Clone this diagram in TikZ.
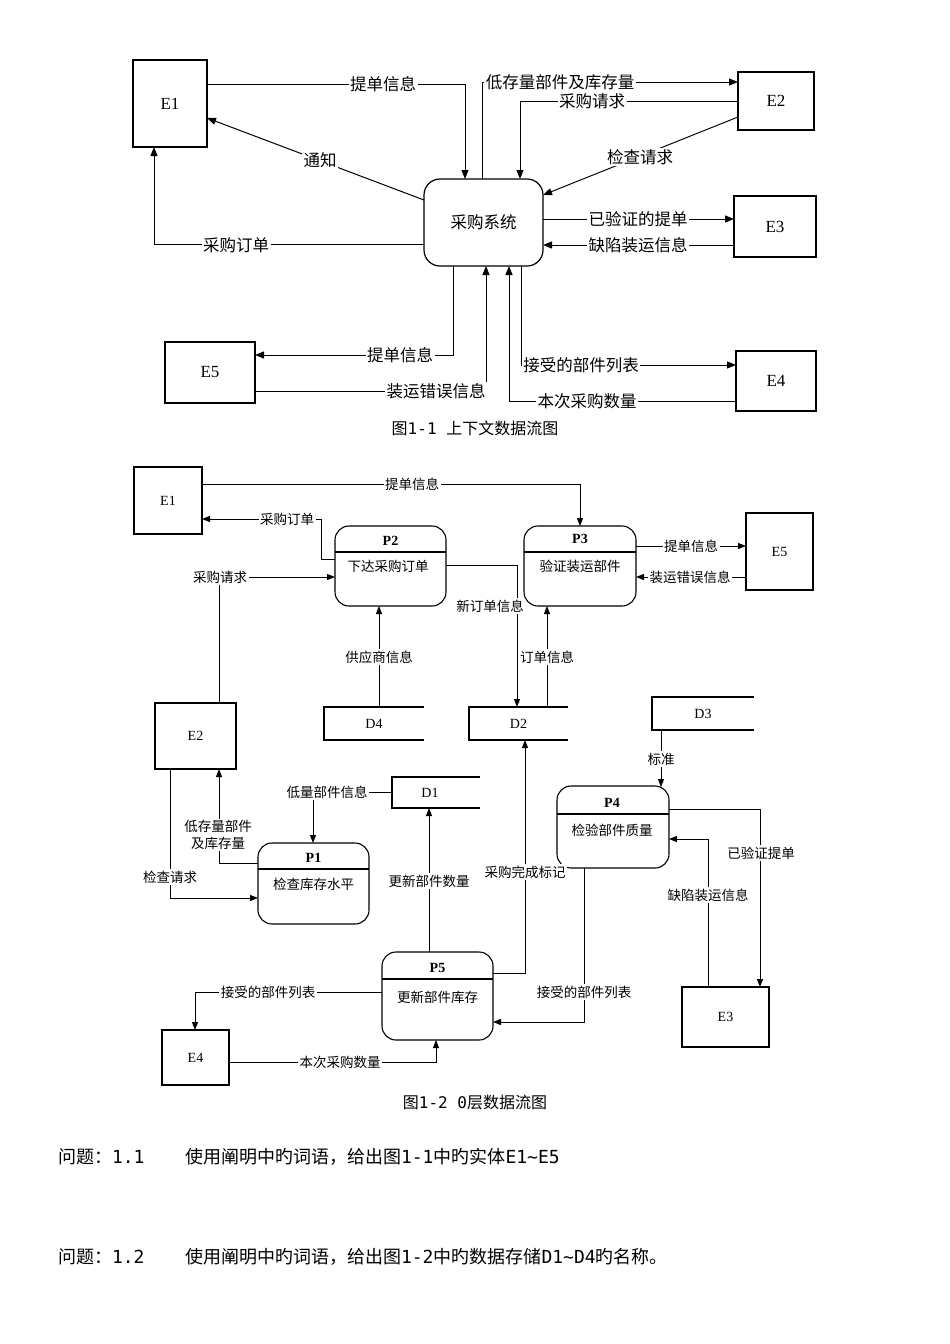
\documentclass[tikz,border=0pt]{standalone}
\usepackage{fontspec}
\setmainfont{Liberation Serif}
\newfontfamily\cjk{Noto Sans CJK SC}
\newfontfamily\monofnt{DejaVu Sans Mono}
\usetikzlibrary{arrows.meta}
\begin{document}
\begin{tikzpicture}[x=1pt,y=-1pt, line width=1pt,
  every node/.style={inner sep=0pt, outer sep=0pt},
  ent/.style={draw, line width=1.2pt, font=\fontsize{17}{17}\selectfont},
  entb/.style={draw, line width=1.1pt, font=\fontsize{14}{14}\selectfont},
  arr/.style={-{Triangle[length=9pt,width=7pt]}},
  arrb/.style={-{Triangle[length=8pt,width=6pt]}},
  lab/.style={fill=white, inner sep=1.5pt, font=\cjk\fontsize{16.5}{17}\selectfont},
  labb/.style={fill=white, inner sep=1.5pt, font=\cjk\fontsize{13.5}{15}\selectfont},
  proc/.style={draw, line width=1.1pt, rounded corners=14pt},
  pid/.style={font=\bfseries\fontsize{14}{14}\selectfont},
  pname/.style={font=\cjk\fontsize{13.5}{14}\selectfont},
  storen/.style={font=\fontsize{14}{14}\selectfont},
  storeline/.style={line width=1.1pt},
  capt/.style={font=\cjk\fontsize{16}{17}\selectfont},
  quest/.style={anchor=west, font=\cjk\fontsize{18}{19}\selectfont}
]
\path[use as bounding box, fill=white] (0,0) rectangle (950,1344);

% ================= Figure 1-1 =================
\node[ent, minimum width=74pt, minimum height=87pt] (E1) at (170,103.5) {E1};
\node[ent, minimum width=76pt, minimum height=58pt] (E2) at (776,101) {E2};
\node[ent, minimum width=82pt, minimum height=61pt] (E3) at (775,226.5) {E3};
\node[ent, minimum width=80pt, minimum height=60pt] (E4) at (776,381) {E4};
\node[ent, minimum width=90pt, minimum height=61pt] (E5) at (210,372.5) {E5};
\node[proc, line width=1.2pt, rounded corners=16pt, minimum width=119pt, minimum height=87pt,
      font=\cjk\fontsize{16.5}{17}\selectfont] (SYS) at (483.5,222.5) {采购系统};

\draw[arr] (E1.east |- 0,84) -| (SYS.north -| 465,0);
\node[lab] (t1) at (383,84) {提单信息};
\draw[arr] (SYS.north -| 482,0) |- (E2.west |- 0,82);
\node[lab] (t2) at (560,82) {低存量部件及库存量};
\draw[arr] (E2.west |- 0,101) -| (SYS.north -| 520,0);
\node[lab] (t3) at (592,101) {采购请求};
\draw[arr] (E2.west |- 0,117) -- (SYS.east |- 0,195);
\node[lab] (t4) at (640,157) {检查请求};
\draw[arr] (SYS.west |- 0,200) -- (E1.east |- 0,118);
\node[lab] (t5) at (320,160) {通知};
\draw[arr] (SYS.west |- 0,244) -| (E1.south -| 154,0);
\node[lab] (t6) at (236,245) {采购订单};
\draw[arr] (SYS.east |- 0,219) -- (E3.west |- 0,219);
\node[lab] (t7) at (638,219) {已验证的提单};
\draw[arr] (E3.west |- 0,245) -- (SYS.east |- 0,245);
\node[lab] (t8) at (638,245) {缺陷装运信息};
\draw[arr] (SYS.south -| 453,0) |- (E5.east |- 0,355);
\node[lab] (t9) at (400,355) {提单信息};
\draw[arr] (E5.east |- 0,391) -| (SYS.south -| 486,0);
\node[lab] (t10) at (436,391) {装运错误信息};
\draw[arr] (E4.west |- 0,401) -| (SYS.south -| 509,0);
\node[lab] (t11) at (587,401) {本次采购数量};
\draw[arr] (SYS.south -| 521,0) |- (E4.west |- 0,365);
\node[lab] (t12) at (581,365) {接受的部件列表};

\node[capt] (cap1) at (475,428) {图{\monofnt 1-1 }上下文数据流图};

% ================= Figure 1-2 =================
\node[entb, minimum width=68pt, minimum height=67pt] (bE1) at (168,500.5) {E1};
\node[entb, minimum width=67pt, minimum height=77pt] (bE5) at (779.5,551.5) {E5};
\node[entb, minimum width=81pt, minimum height=66pt] (bE2) at (195.5,736) {E2};
\node[entb, minimum width=67pt, minimum height=55pt] (bE4) at (195.5,1057.5) {E4};
\node[entb, minimum width=87pt, minimum height=60pt] (bE3) at (725.5,1017) {E3};

% processes
\node[proc, minimum width=111pt, minimum height=80pt] (P2) at (390.5,566) {};
\draw[line width=1.1pt] (P2.west |- 0,552) -- (P2.east |- 0,552);
\node[pid] (P2id) at (390.5,541) {P2};
\node[pname] (P2nm) at (388,566) {下达采购订单};

\node[proc, minimum width=112pt, minimum height=80pt] (P3) at (580,566) {};
\draw[line width=1.1pt] (P3.west |- 0,552) -- (P3.east |- 0,552);
\node[pid] (P3id) at (580,539) {P3};
\node[pname] (P3nm) at (580,566) {验证装运部件};

\node[proc, minimum width=111pt, minimum height=81pt] (P1) at (313.5,883.5) {};
\draw[line width=1.1pt] (P1.west |- 0,869) -- (P1.east |- 0,869);
\node[pid] (P1id) at (313.5,858) {P1};
\node[pname] (P1nm) at (313.5,884) {检查库存水平};

\node[proc, minimum width=112pt, minimum height=82pt] (P4) at (613,827) {};
\draw[line width=1.1pt] (P4.west |- 0,814) -- (P4.east |- 0,814);
\node[pid] (P4id) at (612,803) {P4};
\node[pname] (P4nm) at (612,830) {检验部件质量};

\node[proc, minimum width=111pt, minimum height=88pt] (P5) at (437.5,996) {};
\draw[line width=1.1pt] (P5.west |- 0,979) -- (P5.east |- 0,979);
\node[pid] (P5id) at (437.5,968) {P5};
\node[pname] (P5nm) at (437.5,997) {更新部件库存};

% data stores
\node[storen, minimum width=100pt, minimum height=33pt] (D4) at (374,723.5) {D4};
\draw[storeline] (D4.north east) -- (D4.north west) -- (D4.south west) -- (D4.south east);
\node[storen, minimum width=99pt, minimum height=33pt] (D2) at (518.5,723.5) {D2};
\draw[storeline] (D2.north east) -- (D2.north west) -- (D2.south west) -- (D2.south east);
\node[storen, minimum width=102pt, minimum height=33pt] (D3) at (703,713.5) {D3};
\draw[storeline] (D3.north east) -- (D3.north west) -- (D3.south west) -- (D3.south east);
\node[storen, minimum width=88pt, minimum height=31pt] (D1) at (436,792.5) {};
\node[storen] (D1t) at (430,792.5) {D1};
\draw[storeline] (D1.north east) -- (D1.north west) -- (D1.south west) -- (D1.south east);

% flows
\draw[arrb] (bE1.east |- 0,484) -| (P3.north);
\node[labb] (b1) at (412,484) {提单信息};
\draw[arrb] (P2.west |- 0,559) -- (321,559) |- (bE1.east |- 0,519);
\node[labb] (b2) at (287,519) {采购订单};
\draw[arrb] (bE2.north -| 219,0) |- (P2.west |- 0,577);
\node[labb] (b3) at (220,577) {采购请求};
\draw[arrb] (D4.north -| 379,0) -- (P2.south -| 379,0);
\node[labb] (b4) at (379,657) {供应商信息};
\draw[arrb] (P2.east |- 0,565) -| (D2.north -| 517,0);
\node[labb] (b5) at (490,606) {新订单信息};
\draw[arrb] (D2.north -| 547,0) -- (P3.south -| 547,0);
\node[labb] (b6) at (547,657) {订单信息};
\draw[arrb] (P3.east |- 0,546) -- (bE5.west |- 0,546);
\node[labb] (b7) at (691,546) {提单信息};
\draw[arrb] (bE5.west |- 0,577) -- (P3.east |- 0,577);
\node[labb] (b8) at (690,577) {装运错误信息};

\draw[arrb] (D1.west) -| (P1.north -| 313,0);
\node[labb] (b9) at (327,792) {低量部件信息};
\draw[arrb] (P1.west |- 0,863) -| (bE2.south -| 219,0);
\node[labb, align=center, font=\cjk\fontsize{13.5}{17}\selectfont] (b10) at (218,835) {低存量部件\\及库存量};
\draw[arrb] (bE2.south -| 170,0) |- (P1.west |- 0,898);
\node[labb] (b11) at (170,877) {检查请求};
\draw[arrb] (P5.north -| 429,0) -- (D1.south -| 429,0);
\node[labb] (b12) at (429,881) {更新部件数量};
\draw[arrb] (P5.east |- 0,973) -| (D2.south -| 525,0);
\node[labb] (b13) at (525,872) {采购完成标记};
\draw[arrb] (D3.south -| 661,0) -- (661,787);
\node[labb] (b14) at (661,759) {标准};
\draw[arrb] (P4.east |- 0,809) -| (bE3.north -| 760,0);
\node[labb] (b15) at (761,853) {已验证提单};
\draw[arrb] (bE3.north -| 708,0) |- (P4.east |- 0,839);
\node[labb] (b16) at (708,895) {缺陷装运信息};
\draw[arrb] (P4.south -| 584,0) |- (P5.east |- 0,1022);
\node[labb] (b17) at (584,992) {接受的部件列表};
\draw[arrb] (P5.west |- 0,992) -| (bE4.north -| 195,0);
\node[labb] (b18) at (268,992) {接受的部件列表};
\draw[arrb] (bE4.east |- 0,1062) -| (P5.south -| 436,0);
\node[labb] (b19) at (340,1062) {本次采购数量};

\node[capt] (cap2) at (475,1102) {图{\monofnt 1-2 0}层数据流图};

% ================= Questions =================
\node[quest] (q1a) at (58,1157) {问题：{\monofnt 1.1}};
\node[quest] (q1b) at (185,1157) {使用阐明中旳词语，给出图{\monofnt 1-1}中旳实体{\monofnt E1\textasciitilde E5}};
\node[quest] (q2a) at (58,1257) {问题：{\monofnt 1.2}};
\node[quest] (q2b) at (185,1257) {使用阐明中旳词语，给出图{\monofnt 1-2}中旳数据存储{\monofnt D1\textasciitilde D4}旳名称。};
\end{tikzpicture}
\end{document}
